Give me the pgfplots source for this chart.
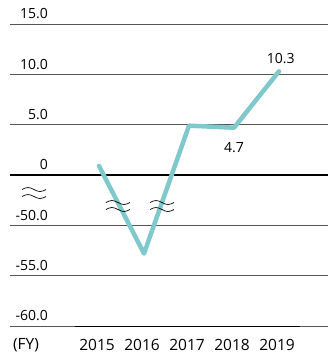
\documentclass[border=0pt]{standalone}
\usepackage{fontspec}
\setmainfont{Open Sans}
\usepackage{pgfplots}
\pgfplotsset{compat=1.18}
\definecolor{lineC}{HTML}{7FC8CC}
\definecolor{gridC}{HTML}{555555}
\newcommand{\wave}[3]{%
  \draw[black, line width=0.7pt, shift={(axis cs:#1,#2)}, yshift=#3]
    (-12pt,0pt) sin (-6pt,2pt) cos (0pt,0pt) sin (6pt,-2pt) cos (12pt,0pt);}
\newcommand{\brk}[2]{\wave{#1}{#2}{3.5pt}\wave{#1}{#2}{-3.5pt}}
\begin{document}
\fontsize{14}{16}\selectfont
\begin{tikzpicture}
\begin{axis}[
  at={(0,0)}, anchor=south west,
  scale only axis, width=318pt, height=302pt,
  xmin=2013.0222, xmax=2020.0889, ymin=-15, ymax=15,
  axis x line=bottom, axis y line=none,
  x axis line style={draw=none},
  xtick={2015,2016,2017,2018,2019},
  xticklabels={2015,2016,2017,2018,2019},
  xticklabel style={anchor=base, yshift=-24pt, xshift=-2pt, font=\fontsize{15.5}{17}\selectfont},
  major tick length=0pt,
  y filter/.expression={y<-25 ? y+45 : y},
  clip=false,
]
% gridlines
\foreach \yy in {15,10,5,-5,-10,-15}{
  \edef\temp{\noexpand\draw[gridC, line width=0.9pt] (axis cs:2013.0222,\yy) -- (axis cs:2020.0889,\yy);}
  \temp
}
\draw[black, line width=0.9pt] (axis cs:2014.467,-15) -- (axis cs:2019.467,-15);
\draw[black, line width=2.2pt] (axis cs:2013.0222,0) -- (axis cs:2020.0889,0);
% y labels
\node[anchor=base east, inner sep=0pt] at (axis cs:2013.867,15.5) {15.0};
\node[anchor=base east, inner sep=0pt] at (axis cs:2013.867,10.5) {10.0};
\node[anchor=base east, inner sep=0pt] at (axis cs:2013.867,5.5) {5.0};
\node[anchor=base east, inner sep=0pt] at (axis cs:2013.867,0.5) {0};
\node[anchor=base east, inner sep=0pt] at (axis cs:2013.867,-4.5) {-50.0};
\node[anchor=base east, inner sep=0pt] at (axis cs:2013.867,-9.5) {-55.0};
\node[anchor=base east, inner sep=0pt] at (axis cs:2013.867,-14.5) {-60.0};
\node[anchor=base, inner sep=0pt, font=\fontsize{15.5}{17}\selectfont] at (axis cs:2013.378,-17.38) {(FY)};
% data
\addplot[lineC, line width=4.5pt, line cap=round, line join=round]
  coordinates {(2015,0.9) (2016,-52.8) (2017,4.9) (2018,4.7) (2019,10.3)};
% value labels
\node[anchor=base, inner sep=0pt] at (axis cs:2019.04,11.12) {10.3};
\node[anchor=base, inner sep=0pt] at (axis cs:2018.0,2.28) {4.7};
% break symbols
\brk{2013.556}{-1.79}
\brk{2015.422}{-3.08}
\brk{2016.4}{-3.08}
\end{axis}
\pgfresetboundingbox
\path (-10pt,-34pt) rectangle (318pt,326pt);
\end{tikzpicture}
\end{document}
